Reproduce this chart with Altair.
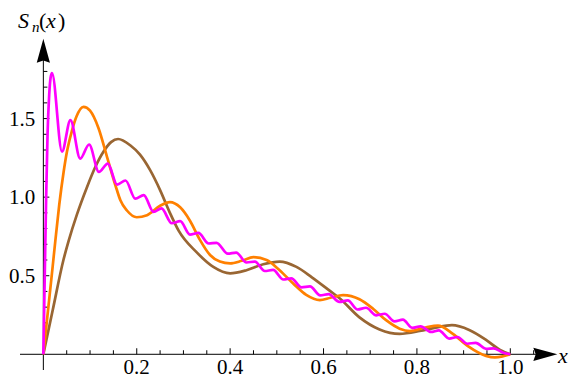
import altair as alt
import pandas as pd

# ---- series ----
brown_x = [0, 0.02, 0.043, 0.054, 0.072, 0.093, 0.111, 0.129, 0.145, 0.16, 0.186, 0.207,
           0.229, 0.25, 0.271, 0.29, 0.328, 0.364, 0.4, 0.435, 0.471, 0.506, 0.542, 0.575,
           0.613, 0.635, 0.677, 0.72, 0.763, 0.806, 0.84, 0.875, 0.912, 0.948, 0.977, 1.0]
brown_y = [0, 0.28, 0.6, 0.72, 0.89, 1.06, 1.19, 1.29, 1.35, 1.37, 1.33, 1.27,
           1.17, 1.045, 0.9, 0.785, 0.65, 0.556, 0.515, 0.535, 0.573, 0.59, 0.556, 0.49,
           0.405, 0.355, 0.235, 0.158, 0.13, 0.148, 0.17, 0.185, 0.155, 0.092, 0.03, 0]

orange_x = [0, 0.02, 0.0256, 0.034, 0.0434, 0.0506, 0.061, 0.0705, 0.086, 0.1, 0.118, 0.136,
            0.157, 0.165, 0.179, 0.2, 0.222, 0.25, 0.271, 0.293, 0.314, 0.335, 0.357, 0.378,
            0.4, 0.425, 0.45, 0.478, 0.506, 0.535, 0.563, 0.592, 0.615, 0.642, 0.677, 0.706,
            0.734, 0.763, 0.785, 0.82, 0.845, 0.877, 0.91, 0.948, 0.967, 0.985, 1.0]
orange_y = [0, 0.56, 0.72, 0.95, 1.16, 1.29, 1.42, 1.51, 1.575, 1.55, 1.44, 1.26,
            1.05, 0.98, 0.915, 0.872, 0.885, 0.945, 0.968, 0.935, 0.85, 0.73, 0.632, 0.59,
            0.578, 0.595, 0.618, 0.6, 0.535, 0.45, 0.378, 0.345, 0.36, 0.376, 0.35, 0.29,
            0.217, 0.163, 0.148, 0.172, 0.182, 0.13, 0.05, -0.01, -0.02, -0.012, 0]

magenta_x = [0, 0.003, 0.006, 0.009, 0.0125, 0.0155, 0.0185, 0.04, 0.058, 0.079, 0.098,
             0.119, 0.138, 0.158, 0.176, 0.197, 0.215, 0.236, 0.253, 0.275, 0.293, 0.314,
             0.332, 0.354, 0.371, 0.395, 0.413, 0.435, 0.453, 0.474, 0.492, 0.514, 0.531,
             0.553, 0.571, 0.593, 0.611, 0.634, 0.652, 0.673, 0.691, 0.713, 0.731, 0.752,
             0.77, 0.79, 0.808, 0.83, 0.847, 0.869, 0.887, 0.908, 0.926, 0.948, 0.964,
             0.985, 1.0]
magenta_y = [0, 0.5, 1.0, 1.4, 1.65, 1.76, 1.79, 1.29, 1.49, 1.245, 1.335,
             1.16, 1.213, 1.08, 1.106, 0.99, 1.013, 0.906, 0.928, 0.834, 0.847, 0.762,
             0.772, 0.705, 0.709, 0.64, 0.647, 0.584, 0.59, 0.53, 0.537, 0.476, 0.483,
             0.426, 0.432, 0.375, 0.383, 0.333, 0.343, 0.285, 0.296, 0.248, 0.258, 0.21,
             0.22, 0.168, 0.178, 0.142, 0.152, 0.1, 0.11, 0.067, 0.073, 0.035, 0.038,
             0.01, 0]

# ---- ticks and labels ----
x_minor = [0.05, 0.1, 0.15, 0.25, 0.3, 0.35, 0.45, 0.5, 0.55, 0.65, 0.7, 0.75,
           0.85, 0.9, 0.95, 1.05]
x_major = [0.2, 0.4, 0.6, 0.8, 1.0]
y_minor = [0.1, 0.2, 0.3, 0.4, 0.6, 0.7, 0.8, 0.9, 1.1, 1.2, 1.3, 1.4, 1.6, 1.7, 1.8]
y_major = [0.5, 1.0, 1.5]

FONT = "Liberation Serif, Times New Roman, Times, DejaVu Serif, serif"
XS = alt.Scale(domain=[-0.05, 1.1], nice=False, zero=False)
YS = alt.Scale(domain=[-0.1, 2.0], nice=False, zero=False)


def curve(xs, ys, color):
    df = pd.DataFrame({"x": xs, "y": ys})
    return alt.Chart(df).mark_line(color=color, strokeWidth=2.7, interpolate="monotone").encode(
        x=alt.X("x:Q", scale=XS, axis=None),
        y=alt.Y("y:Q", scale=YS, axis=None),
        order="x:Q",
    )


brown = curve(brown_x, brown_y, "#996633")
orange = curve(orange_x, orange_y, "#FF8000")
magenta = curve(magenta_x, magenta_y, "#FF00FF")

x_axis_line = alt.Chart(pd.DataFrame({"a": [0]})).mark_rule(color="black", strokeWidth=1).encode(
    x=alt.X(datum=-0.05, scale=XS, axis=None), x2=alt.datum(1.06),
    y=alt.Y(datum=0, scale=YS, axis=None))
y_axis_line = alt.Chart(pd.DataFrame({"a": [0]})).mark_rule(color="black", strokeWidth=1).encode(
    x=alt.X(datum=0, scale=XS, axis=None),
    y=alt.Y(datum=-0.1, scale=YS, axis=None), y2=alt.datum(1.9))

arrow_right = alt.Chart(pd.DataFrame({"a": [0]})).mark_point(
    shape="M1,0L-1,-0.55L-0.8,0L-1,0.55Z", filled=True, size=576, color="black",
    opacity=1, strokeWidth=0).encode(
    x=alt.X(datum=1.075, scale=XS, axis=None), y=alt.Y(datum=0, scale=YS, axis=None))
arrow_up = alt.Chart(pd.DataFrame({"a": [0]})).mark_point(
    shape="M0,-1L0.55,1L0,0.8L-0.55,1Z", filled=True, size=576, color="black",
    opacity=1, strokeWidth=0).encode(
    x=alt.X(datum=0, scale=XS, axis=None), y=alt.Y(datum=1.931, scale=YS, axis=None))


def xticks(vals, length):
    return alt.Chart(pd.DataFrame({"v": vals})).mark_tick(
        orient="vertical", size=length, thickness=1, color="black", opacity=1,
        yOffset=-length / 2).encode(
        x=alt.X("v:Q", scale=XS, axis=None), y=alt.Y(datum=0, scale=YS, axis=None))


def yticks(vals, length):
    return alt.Chart(pd.DataFrame({"v": vals})).mark_tick(
        orient="horizontal", size=length, thickness=1, color="black", opacity=1,
        xOffset=length / 2).encode(
        y=alt.Y("v:Q", scale=YS, axis=None), x=alt.X(datum=0, scale=XS, axis=None))


x_labels = alt.Chart(pd.DataFrame({"v": x_major})).mark_text(
    font=FONT, fontSize=21, align="center", baseline="alphabetic", dy=20, color="black").encode(
    x=alt.X("v:Q", scale=XS, axis=None), y=alt.Y(datum=0, scale=YS, axis=None),
    text=alt.Text("v:Q", format=".1f"))
y_labels = alt.Chart(pd.DataFrame({"v": y_major})).mark_text(
    font=FONT, fontSize=21, align="right", baseline="middle", dx=-8, dy=1, color="black").encode(
    y=alt.Y("v:Q", scale=YS, axis=None), x=alt.X(datum=0, scale=XS, axis=None),
    text=alt.Text("v:Q", format=".1f"))


def label(t, px, py, size=22, style="normal"):
    return alt.Chart(pd.DataFrame({"t": [t]})).mark_text(
        font=FONT, fontSize=size, fontStyle=style, align="left", baseline="alphabetic",
        color="black").encode(x=alt.value(px), y=alt.value(py), text="t:N")


title_parts = [
    label("S", -2, -12, 22, "italic"),
    label("n", 12, -8, 15, "italic"),
    label("(", 19, -12, 22),
    label("x", 26, -12, 22, "italic"),
    label(")", 38, -12, 22),
    label("x", 538, 323, 22, "italic"),
]

chart = alt.layer(
    x_axis_line, y_axis_line,
    xticks(x_minor, 4), xticks(x_major, 6), yticks(y_minor, 4), yticks(y_major, 6),
    arrow_right, arrow_up,
    brown, orange, magenta,
    x_labels, y_labels, *title_parts,
).properties(
    width=537, height=330,
    padding={"left": 12, "top": 32, "right": 12, "bottom": 10},
    autosize=alt.AutoSizeParams(type="none"),
    background="white",
).configure_view(stroke=None)

chart.save("out.html", embed_options={"renderer": "svg", "actions": False})
